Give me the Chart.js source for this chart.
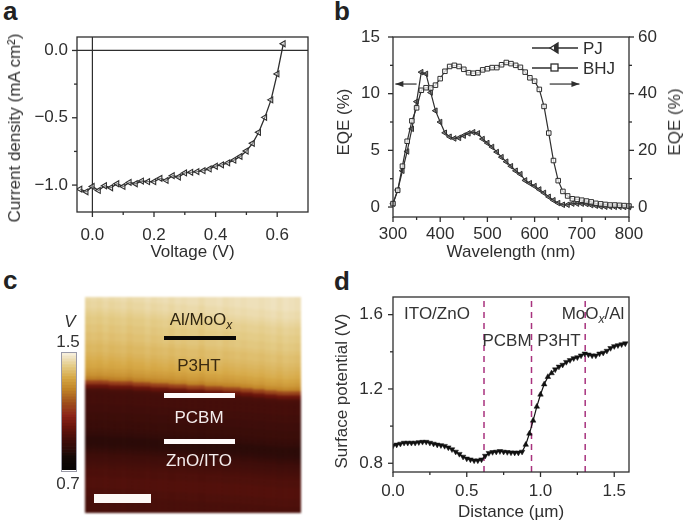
<!DOCTYPE html>
<html>
<head>
<meta charset="utf-8">
<script src="https://cdn.jsdelivr.net/npm/chart.js@4"></script>
<style>
  html, body { margin: 0; padding: 0; background: #fff; overflow: hidden; }
  body { width: 685px; height: 524px; position: relative; font-family: "Liberation Sans", sans-serif; color: #333; filter: blur(0.3px); }
  canvas { position: absolute; }
  .t { position: absolute; font-size: 17px; line-height: 20px; white-space: nowrap; transform: translate(-50%, -50%); }
  .t.rot { transform: translate(-50%, -50%) rotate(-90deg); }
  .letter { position: absolute; font-size: 26px; font-weight: bold; line-height: 27px; color: #222; }
  .bar { position: absolute; }
  sub { font-style: italic; font-size: 12px; line-height: 0; }
</style>
</head>
<body>
<div class="letter" style="left:3px;top:-2px">a</div>
<div class="letter" style="left:334px;top:-2px">b</div>
<div class="letter" style="left:3px;top:267px">c</div>
<div class="letter" style="left:334px;top:268px">d</div>

<canvas id="chartA" style="left:0;top:27px"></canvas>
<canvas id="chartB" style="left:330px;top:27px"></canvas>
<canvas id="chartC" style="left:85px;top:297px;filter:blur(0.8px)"></canvas>
<canvas id="chartBar" style="left:62px;top:353px"></canvas>
<canvas id="chartD" style="left:330px;top:290px"></canvas>

<div class="t rot" style="left:15px;top:128px">Current density (mA cm²)</div>
<div class="t rot" style="left:344px;top:122px">EQE (%)</div>
<div class="t rot" style="left:675px;top:122px">EQE (%)</div>
<div class="t rot" style="left:342px;top:391px">Surface potential (V)</div>

<div class="bar" style="left:61px;top:352px;width:14px;height:118px;border:1px solid #9a9aa8;box-sizing:content-box"></div>
<div class="t" style="left:70px;top:322px;font-style:italic">V</div>
<div class="t" style="left:68px;top:342px">1.5</div>
<div class="t" style="left:68px;top:484px">0.7</div>

<div class="t" style="left:201px;top:320px;color:#2e2410">Al/MoO<sub>x</sub></div>
<div class="bar" style="left:164px;top:336px;width:72px;height:4px;background:#0a0806"></div>
<div class="t" style="left:199px;top:366px;color:#3a2a10">P3HT</div>
<div class="bar" style="left:164px;top:393px;width:71px;height:5px;background:#fffafa"></div>
<div class="t" style="left:199px;top:418px;color:#f4ecec">PCBM</div>
<div class="bar" style="left:164px;top:439px;width:71px;height:5px;background:#fffafa"></div>
<div class="t" style="left:199px;top:461px;color:#f4ecec">ZnO/ITO</div>
<div class="bar" style="left:94px;top:494px;width:57px;height:9px;background:#fdf8f6"></div>

<div class="t" style="left:437px;top:314px">ITO/ZnO</div>
<div class="t" style="left:507px;top:341px">PCBM</div>
<div class="t" style="left:559px;top:341px">P3HT</div>
<div class="t" style="left:593px;top:314px">MoO<sub>x</sub>/Al</div>

<script>
// --- Panel a: J-V curve ---
const voltage = [-0.04, -0.02, 0, 0.02, 0.04, 0.06, 0.08, 0.1, 0.12, 0.14, 0.16, 0.18, 0.2, 0.22, 0.24, 0.26, 0.28, 0.3, 0.32, 0.34, 0.36, 0.38, 0.4, 0.42, 0.44, 0.46, 0.48, 0.5, 0.52, 0.54, 0.56, 0.58, 0.6, 0.62];
const currentDensity = [-1.03, -1.05, -1.01, -1.04, -1.005, -1.02, -0.99, -1.01, -0.98, -0.99, -0.97, -0.975, -0.975, -0.95, -0.965, -0.93, -0.94, -0.91, -0.905, -0.9, -0.893, -0.88, -0.86, -0.85, -0.835, -0.815, -0.787, -0.747, -0.69, -0.608, -0.497, -0.367, -0.174, 0.05];

// --- Panel b: EQE spectra ---
const wavelength = [300, 310, 320, 330, 340, 350, 360, 370, 380, 390, 400, 410, 420, 430, 440, 450, 460, 470, 480, 490, 500, 510, 520, 530, 540, 550, 560, 570, 580, 590, 600, 610, 620, 630, 640, 650, 660, 670, 680, 690, 700, 710, 720, 730, 740, 750, 760, 770, 780, 790, 800];
const eqePJ = [0.3, 1.5, 3.2, 4.9, 6.9, 9.3, 11.9, 11.75, 10.1, 8.5, 7.5, 6.55, 6.2, 6.05, 6.1, 6.3, 6.5, 6.6, 6.5, 6.0, 5.65, 5.3, 4.85, 4.4, 4.0, 3.6, 3.2, 2.9, 2.35, 2.1, 1.85, 1.55, 1.25, 0.9, 0.6, 0.35, 0.2, 0.2, 0.3, 0.3, 0.3, 0.27, 0.17, 0.12, 0.05, 0.03, 0.03, 0.02, 0.02, 0.01, 0];
const eqeBHJ = [1.2, 5.9, 14.4, 23.2, 30.4, 35, 41.2, 42.1, 42, 43, 45.3, 47.9, 49.6, 50, 49.6, 48.6, 47.4, 47.2, 47.4, 48.4, 48.8, 49.2, 49.2, 50.2, 51, 50.6, 50, 49.3, 47.6, 45.6, 44.4, 41.5, 35.5, 26.1, 16.4, 9.3, 5.5, 3.9, 2.9, 2.7, 2.4, 2.1, 1.8, 1.3, 1.1, 0.9, 0.7, 0.7, 0.6, 0.5, 0.35];

// --- Panel c: potential per scan row, top to bottom, and how the layers drift per column ---
const rowPotential = [1.44, 1.44, 1.43, 1.43, 1.42, 1.41, 1.40, 1.40, 1.39, 1.39, 1.38, 1.38, 1.37, 1.36, 1.36, 1.35, 1.34, 1.33, 1.32, 1.30, 1.28, 1.24, 1.12, 0.98, 0.91, 0.90, 0.90, 0.90, 0.89, 0.89, 0.88, 0.88, 0.87, 0.87, 0.86, 0.85, 0.83, 0.83, 0.84, 0.86, 0.88, 0.89, 0.90, 0.91, 0.92, 0.92, 0.93, 0.93, 0.93, 0.92, 0.92, 0.91, 0.91, 0.91];
const columnDrift = [-1.25, -1.25, -1.25, -1.25, -1, -1, -1, -1, -0.75, -0.75, -0.75, -0.5, -0.5, -0.5, -0.25, -0.25, -0.25, 0, 0, 0, 0.25, 0.25, 0.25, 0.5, 0.5, 0.5, 0.75, 0.75, 1, 1, 1.25, 1.25, 1.5, 1.5, 1.5, 1.5];
const columnStreak = [-0.01, -0.005, -0.01, 0, -0.01, -0.005, 0, -0.01, -0.005, -0.005, 0.005, -0.005, 0, 0.005, -0.005, 0.005, 0, 0.005, 0.005, -0.005, 0.005, 0.005, 0.01, 0, 0.005, 0.01, 0.005, 0.01, 0.01, 0.005, 0.01, 0.015, 0.005, 0.015, 0.01, 0.005];
const scaleLevels = [0.70, 0.72, 0.74, 0.76, 0.78, 0.80, 0.82, 0.84, 0.86, 0.88, 0.90, 0.92, 0.94, 0.96, 0.98, 1.00, 1.02, 1.04, 1.06, 1.08, 1.10, 1.12, 1.14, 1.16, 1.18, 1.20, 1.22, 1.24, 1.26, 1.28, 1.30, 1.32, 1.34, 1.36, 1.38, 1.40, 1.42, 1.44, 1.46, 1.48];

// --- Panel d: surface potential line scan ---
const distance = [0, 0.025, 0.05, 0.075, 0.1, 0.125, 0.15, 0.175, 0.2, 0.225, 0.25, 0.275, 0.3, 0.325, 0.35, 0.375, 0.4, 0.425, 0.45, 0.475, 0.5, 0.525, 0.55, 0.575, 0.6, 0.625, 0.65, 0.675, 0.7, 0.725, 0.75, 0.775, 0.8, 0.825, 0.85, 0.875, 0.9, 0.925, 0.95, 0.975, 1, 1.025, 1.05, 1.075, 1.1, 1.125, 1.15, 1.175, 1.2, 1.225, 1.25, 1.275, 1.3, 1.325, 1.35, 1.375, 1.4, 1.425, 1.45, 1.475, 1.5, 1.525, 1.55, 1.575];
const surfacePotential = [0.895, 0.9, 0.905, 0.91, 0.91, 0.91, 0.91, 0.913, 0.915, 0.915, 0.91, 0.905, 0.9, 0.897, 0.893, 0.885, 0.875, 0.862, 0.85, 0.835, 0.825, 0.82, 0.815, 0.815, 0.82, 0.84, 0.855, 0.86, 0.862, 0.865, 0.862, 0.86, 0.858, 0.857, 0.857, 0.862, 0.9, 0.96, 1.03, 1.105, 1.17, 1.225, 1.265, 1.285, 1.305, 1.32, 1.33, 1.345, 1.355, 1.365, 1.37, 1.38, 1.39, 1.385, 1.38, 1.38, 1.39, 1.395, 1.405, 1.42, 1.43, 1.435, 1.44, 1.445];
const layerEdges = [0.617, 0.939, 1.303];

const INK = "#2e2e2e";
const FONT = { family: "'Liberation Sans', sans-serif", size: 17 };

// potential to colour, same map for the image and its colour bar
const colourStops = [
  [0.70, 8, 4, 4], [0.78, 20, 8, 6], [0.82, 40, 10, 8], [0.90, 68, 14, 10], [0.98, 104, 20, 12],
  [1.06, 140, 36, 24], [1.14, 156, 74, 28], [1.24, 192, 132, 40], [1.32, 214, 168, 70],
  [1.40, 228, 204, 136], [1.46, 240, 228, 196], [1.50, 251, 248, 238]
];
function potentialColour(v) {
  let i = 0;
  while (i < colourStops.length - 2 && v > colourStops[i + 1][0]) i++;
  const a = colourStops[i], b = colourStops[i + 1];
  const t = Math.min(1, Math.max(0, (v - a[0]) / (b[0] - a[0])));
  const c = [1, 2, 3].map(k => Math.round(a[k] + (b[k] - a[k]) * t));
  return `rgb(${c[0]},${c[1]},${c[2]})`;
}

// Fixed axis box, outward ticks drawn by the frame plugin below
function axis(opts) {
  const { min, max, major, minor, fmt, title, size, horizontal, padding, position } = opts;
  return {
    type: "linear", min, max, position,
    afterBuildTicks: s => {
      s.ticks = major.map(v => ({ value: v, major: true }))
        .concat(minor.map(v => ({ value: v })))
        .sort((p, q) => p.value - q.value);
    },
    afterFit: s => {
      if (horizontal) s.height = size; else s.width = size;
      // tick labels would otherwise push the plot area inward
      s.paddingTop = s.paddingBottom = s.paddingLeft = s.paddingRight = 0;
    },
    ticks: {
      autoSkip: false, maxRotation: 0, minRotation: 0, padding, color: INK, font: FONT,
      callback: (v, i, t) => (t[i].major ? fmt(v) : "")
    },
    grid: { drawOnChartArea: false, drawTicks: false },
    border: { display: false },
    title: { display: !!title, text: title, color: INK, font: FONT, padding: 0 }
  };
}

const frame = {
  id: "frame",
  afterDatasetsDraw(chart) {
    const { ctx, chartArea: a } = chart;
    ctx.save();
    ctx.strokeStyle = INK;
    ctx.lineWidth = 1.3;
    ctx.strokeRect(a.left, a.top, a.right - a.left, a.bottom - a.top);
    Object.values(chart.scales).forEach(s => {
      s.ticks.forEach(t => {
        const p = s.getPixelForValue(t.value);
        const len = t.major ? 5 : 3;
        ctx.beginPath();
        if (s.isHorizontal()) {
          ctx.moveTo(p, a.bottom); ctx.lineTo(p, a.bottom + len);
        } else if (s.position === "right") {
          ctx.moveTo(a.right, p); ctx.lineTo(a.right + len, p);
        } else {
          ctx.moveTo(a.left, p); ctx.lineTo(a.left - len, p);
        }
        ctx.stroke();
      });
    });
    ctx.restore();
  }
};

const zeroLines = {
  id: "zeroLines",
  beforeDatasetsDraw(chart) {
    const { ctx, chartArea: a, scales } = chart;
    ctx.save();
    ctx.strokeStyle = INK;
    ctx.lineWidth = 1.2;
    ctx.beginPath();
    ctx.moveTo(a.left, scales.y.getPixelForValue(0));
    ctx.lineTo(a.right, scales.y.getPixelForValue(0));
    ctx.moveTo(scales.x.getPixelForValue(0), a.top);
    ctx.lineTo(scales.x.getPixelForValue(0), a.bottom);
    ctx.stroke();
    ctx.restore();
  }
};

// Legend and the two "which axis" arrows of panel b
const eqeNotes = {
  id: "eqeNotes",
  afterDatasetsDraw(chart) {
    const { ctx, scales } = chart;
    function arrow(x0, x1, y) {
      const dir = x1 > x0 ? 1 : -1;
      ctx.beginPath(); ctx.moveTo(x0, y); ctx.lineTo(x1, y); ctx.stroke();
      ctx.beginPath(); ctx.moveTo(x1, y); ctx.lineTo(x1 - 8 * dir, y - 3); ctx.lineTo(x1 - 8 * dir, y + 3); ctx.closePath(); ctx.fill();
    }
    ctx.save();
    ctx.strokeStyle = INK; ctx.fillStyle = INK; ctx.lineWidth = 1.2;
    arrow(scales.x.getPixelForValue(350), scales.x.getPixelForValue(305), scales.y.getPixelForValue(10.85));
    arrow(scales.x.getPixelForValue(632), scales.x.getPixelForValue(695), scales.y.getPixelForValue(10.85));
    // legend samples
    ctx.lineWidth = 1.3;
    [21, 41].forEach(y => {
      ctx.beginPath(); ctx.moveTo(202, y); ctx.lineTo(248, y); ctx.stroke();
    });
    ctx.beginPath(); ctx.moveTo(220, 21); ctx.lineTo(228, 16); ctx.lineTo(228, 26); ctx.closePath();
    ctx.fillStyle = "#fff"; ctx.fill(); ctx.stroke();
    ctx.beginPath(); ctx.moveTo(224, 18.5); ctx.lineTo(228, 16); ctx.lineTo(228, 26); ctx.lineTo(224, 23.5); ctx.closePath();
    ctx.fillStyle = INK; ctx.fill();
    ctx.fillStyle = "#fff"; ctx.fillRect(221, 37, 7, 7); ctx.strokeRect(221, 37, 7, 7);
    ctx.fillStyle = INK; ctx.font = "17px 'Liberation Sans', sans-serif"; ctx.textBaseline = "middle";
    ctx.fillText("PJ", 253, 22);
    ctx.fillText("BHJ", 253, 42);
    ctx.restore();
  }
};

function sized(id, w, h) {
  const c = document.getElementById(id);
  c.style.width = w + "px"; c.style.height = h + "px";
  c.width = w; c.height = h;
  return c;
}

const baseOptions = (padding, scales) => ({
  responsive: false, animation: false, layout: { padding, autoPadding: false },
  plugins: { legend: { display: false }, tooltip: { enabled: false } },
  scales
});

// Panel a
new Chart(sized("chartA", 320, 236), {
  type: "line",
  data: {
    labels: voltage,
    datasets: [{
      data: voltage.map((v, i) => ({ x: v, y: currentDensity[i] })),
      borderColor: INK, borderWidth: 1.3, pointStyle: "triangle", pointRotation: -90, pointRadius: 3.4,
      pointBackgroundColor: "rgba(255,255,255,0.4)", pointBorderColor: INK, pointBorderWidth: 1.1
    }]
  },
  options: baseOptions({ left: 0, top: 10, right: 12 }, {
    x: axis({ min: -0.05, max: 0.7, major: [0, 0.2, 0.4, 0.6], minor: [0.1, 0.3, 0.5], fmt: v => v.toFixed(1), title: "Voltage (V)", size: 51, horizontal: true, padding: 13 }),
    y: axis({ min: -1.2, max: 0.1, major: [-1, -0.5, 0], minor: [-0.75, -0.25], fmt: v => v.toFixed(1).replace("-", "\u2212"), size: 77, padding: 9 })
  }),
  plugins: [zeroLines, frame]
});

// Panel b
new Chart(sized("chartB", 355, 236), {
  type: "line",
  data: {
    labels: wavelength,
    datasets: [{
      label: "BHJ", yAxisID: "y2",
      data: wavelength.map((w, i) => ({ x: w, y: eqeBHJ[i] })),
      borderColor: INK, borderWidth: 1.2, pointStyle: "rect", pointRadius: 3.2,
      pointBackgroundColor: "rgba(255,255,255,0.75)", pointBorderColor: INK, pointBorderWidth: 1, clip: false
    }, {
      label: "PJ", yAxisID: "y",
      data: wavelength.map((w, i) => ({ x: w, y: eqePJ[i] })),
      borderColor: INK, borderWidth: 1.2, pointStyle: "triangle", pointRotation: -90, pointRadius: 3.2,
      pointBackgroundColor: "rgba(70,70,70,0.6)", pointBorderColor: INK, pointBorderWidth: 1, clip: false
    }]
  },
  options: baseOptions({ left: 0, top: 10 }, {
    x: axis({ min: 300, max: 800, major: [300, 400, 500, 600, 700, 800], minor: [350, 450, 550, 650, 750], fmt: v => String(v), title: "Wavelength (nm)", size: 46, horizontal: true, padding: 7 }),
    y: axis({ min: -0.88, max: 15, major: [0, 5, 10, 15], minor: [2.5, 7.5, 12.5], fmt: v => String(v), size: 63, padding: 13, position: "left" }),
    y2: axis({ min: -3.53, max: 60, major: [0, 20, 40, 60], minor: [10, 30, 50], fmt: v => String(v), size: 56, padding: 9, position: "right" })
  }),
  plugins: [frame, eqeNotes]
});

// Panel c: each scan row is a dataset of floating bars, one per column
const columns = columnDrift.map((d, i) => i);
new Chart(sized("chartC", 216, 216), {
  type: "bar",
  data: {
    labels: columns,
    datasets: rowPotential.map((v, row) => ({
      data: columnDrift.map(d => [
        row + d - (row === 0 ? 3 : 0),
        row + 1 + d + (row === rowPotential.length - 1 ? 3 : 0)
      ]),
      backgroundColor: columnStreak.map(s => potentialColour(v > 1 ? v + s : v + s / 4)),
      borderWidth: 0, barPercentage: 1, categoryPercentage: 1, grouped: false
    }))
  },
  options: {
    responsive: false, animation: false,
    plugins: { legend: { display: false }, tooltip: { enabled: false } },
    scales: {
      x: { display: false },
      y: { display: false, min: 0, max: rowPotential.length, reverse: true }
    }
  }
});

// Panel c colour bar
new Chart(sized("chartBar", 14, 117), {
  type: "bar",
  data: {
    labels: ["V"],
    datasets: scaleLevels.map(v => ({
      data: [[v, v + 0.02]],
      backgroundColor: potentialColour(v),
      borderWidth: 0, barPercentage: 1, categoryPercentage: 1, grouped: false
    }))
  },
  options: {
    responsive: false, animation: false,
    plugins: { legend: { display: false }, tooltip: { enabled: false } },
    scales: { x: { display: false }, y: { display: false, min: 0.7, max: 1.5 } }
  }
});

// Panel d
new Chart(sized("chartD", 355, 233), {
  type: "line",
  data: {
    labels: distance,
    datasets: [{
      data: distance.map((d, i) => ({ x: d, y: surfacePotential[i] })),
      borderColor: "#111", borderWidth: 1.2, pointStyle: "triangle", pointRadius: 3.2,
      pointRotation: ctx => (surfacePotential[ctx.dataIndex] > 0.88 && surfacePotential[ctx.dataIndex] < 1.29 && ctx.dataIndex > 30 ? 0 : 180),
      pointBackgroundColor: "#111", pointBorderColor: "#111", pointBorderWidth: 0.5
    }].concat(layerEdges.map(x => ({
      data: [{ x, y: 0.753 }, { x, y: 1.695 }],
      borderColor: "#a8327e", borderWidth: 1.5, borderDash: [6, 5], pointRadius: 0
    })))
  },
  options: baseOptions({ left: 0, top: 7, right: 56 }, {
    x: axis({ min: 0, max: 1.6, major: [0, 0.5, 1, 1.5], minor: [0.25, 0.75, 1.25], fmt: v => v.toFixed(1), title: "Distance (\u00b5m)", size: 51, horizontal: true, padding: 9 }),
    y: axis({ min: 0.753, max: 1.695, major: [0.8, 1.2, 1.6], minor: [1, 1.4], fmt: v => v.toFixed(1), size: 63, padding: 10 })
  }),
  plugins: [frame]
});
</script>
</body>
</html>
